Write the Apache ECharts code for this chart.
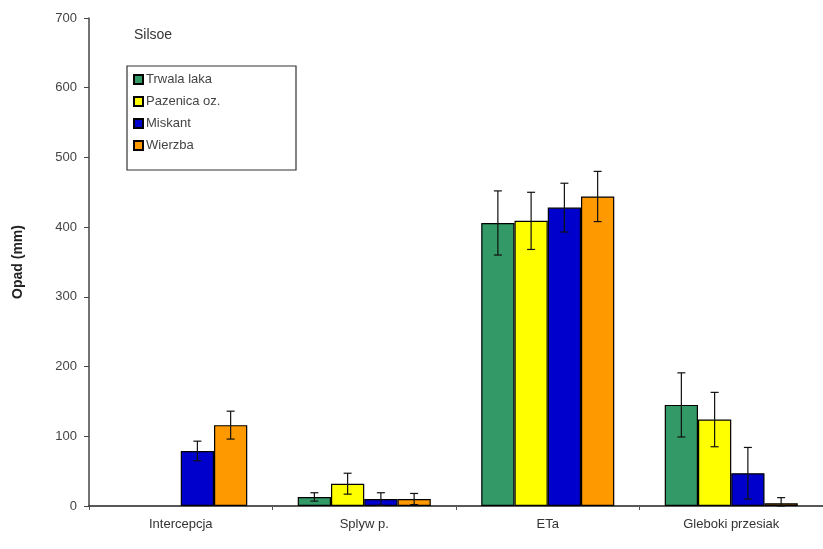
<!DOCTYPE html>
<html>
<head>
<meta charset="utf-8">
<script src="https://cdn.jsdelivr.net/npm/echarts@6/dist/echarts.min.js"></script>
<style>
  html, body { margin: 0; padding: 0; background: #fff; }
  #chart { width: 823px; height: 549px; }
</style>
</head>
<body>
<div id="chart"></div>
<script>
// Water balance components at Silsoe, per crop
const categories = ['Intercepcja', 'Splyw p.', 'ETa', 'Gleboki przesiak'];
const seriesNames = ['Trwala laka', 'Pazenica oz.', 'Miskant', 'Wierzba'];
const colors = ['#339966', '#FFFF00', '#0000CC', '#FF9900'];

const trwalaLaka = [0, 13, 406, 145];
const pszenica = [0, 32, 409, 124];
const miskant = [79, 10, 428, 47];
const wierzba = [116, 10, 444, 4];

const trwalaLakaErr = [0, 6, 46, 46];
const pszenicaErr = [0, 15, 41, 39];
const miskantErr = [14, 9, 35, 37];
const wierzbaErr = [20, 8, 36, 8];

const yTicks = [0, 100, 200, 300, 400, 500, 600, 700];

const values = [trwalaLaka, pszenica, miskant, wierzba];
const errors = [trwalaLakaErr, pszenicaErr, miskantErr, wierzbaErr];
const catGap = 0.275;
const fontFamily = '"Liberation Sans", Arial, sans-serif';

const chart = echarts.init(document.getElementById('chart'));

const barSeries = seriesNames.map((name, i) => ({
  name: name,
  type: 'bar',
  // zero-height bars get no outline so nothing is drawn on the baseline
  data: values[i].map(v => (v === 0 ? { value: v, itemStyle: { borderWidth: 0 } } : v)),
  barGap: '0%',
  barCategoryGap: (catGap * 100) + '%',
  itemStyle: { color: colors[i], borderColor: '#000', borderWidth: 1.2 },
  emphasis: { disabled: true }
}));

const errorSeries = seriesNames.map((name, i) => ({
  type: 'custom',
  name: name + ' err',
  z: 5,
  silent: true,
  data: values[i].map((v, k) => [k, v, errors[i][k]]),
  renderItem: function (params, api) {
    const k = api.value(0);
    const v = api.value(1);
    const e = api.value(2);
    if (v === 0 && e === 0) return null;
    const catWidth = api.size([1, 0])[0];
    const bw = catWidth * (1 - catGap) / 4;
    const center = api.coord([k, v]);
    const x = center[0] + (i - 1.5) * bw;
    const top = api.coord([k, v + e])[1];
    const bot = api.coord([k, Math.max(v - e, 0)])[1];
    const cap = 4;
    const style = { stroke: '#111', lineWidth: 1.2 };
    return {
      type: 'group',
      children: [
        { type: 'line', shape: { x1: x, y1: top, x2: x, y2: bot }, style: style },
        { type: 'line', shape: { x1: x - cap, y1: top, x2: x + cap, y2: top }, style: style },
        { type: 'line', shape: { x1: x - cap, y1: bot, x2: x + cap, y2: bot }, style: style }
      ]
    };
  }
}));

chart.setOption({
  animation: false,
  backgroundColor: '#fff',
  grid: { left: 89, right: 0, top: 18, bottom: 43, containLabel: false },
  title: {
    text: 'Silsoe',
    left: 129, top: 23,
    textStyle: { fontFamily: fontFamily, fontSize: 14, fontWeight: 'normal', color: '#333' }
  },
  legend: {
    data: seriesNames,
    orient: 'vertical',
    left: 128, top: 68,
    itemWidth: 9, itemHeight: 9,
    itemGap: 9,
    icon: 'rect',
    textStyle: { fontFamily: fontFamily, fontSize: 13, color: '#444', padding: [0, 0, 0, -2] }
  },
  graphic: [{
    type: 'rect',
    shape: { x: 127, y: 66, width: 169, height: 104 },
    style: { fill: 'none', stroke: '#333', lineWidth: 1.2 },
    z: 10
  }],
  xAxis: {
    type: 'category',
    data: categories,
    axisLine: { lineStyle: { color: '#222', width: 1.5 } },
    axisTick: { show: true, length: 4, lineStyle: { color: '#555' } },
    axisLabel: { fontFamily: fontFamily, fontSize: 13, color: '#333', margin: 12 }
  },
  yAxis: {
    type: 'value',
    min: 0, max: 700, interval: 100,
    name: 'Opad (mm)',
    nameLocation: 'middle',
    nameGap: 64,
    nameTextStyle: { fontFamily: fontFamily, fontSize: 14, fontWeight: 'bold', color: '#222' },
    axisLine: { show: true, lineStyle: { color: '#444', width: 1.5 } },
    axisTick: { show: true, length: 5, lineStyle: { color: '#444' } },
    axisLabel: {
      fontFamily: fontFamily, fontSize: 13, color: '#444', margin: 12,
      formatter: v => (yTicks.indexOf(v) >= 0 ? String(v) : '')
    },
    splitLine: { show: false }
  },
  series: barSeries.concat(errorSeries)
});
</script>
</body>
</html>
